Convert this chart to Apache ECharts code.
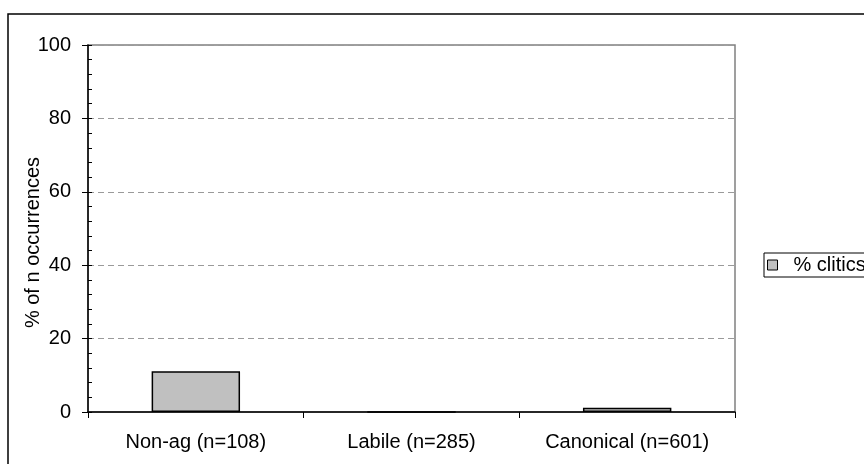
<!DOCTYPE html>
<html>
<head>
<meta charset="utf-8">
<script src="https://cdn.jsdelivr.net/npm/echarts@6/dist/echarts.min.js"></script>
<style>
  html, body { margin: 0; padding: 0; background: #fff; }
  #chart { width: 864px; height: 464px; }
</style>
</head>
<body>
<div id="chart"></div>
<script>
// Share of occurrences realised as clitics, per verb class
const categories = ['Non-ag (n=108)', 'Labile (n=285)', 'Canonical (n=601)'];
const clitics = [11.1, 0, 1.16];
const seriesName = '% clitics';
const yTicks = [0, 20, 40, 60, 80, 100];
const axisTitle = '% of n occurrences';

const FONT = '"Liberation Sans", Arial, sans-serif';
const FS = 20;
const chart = echarts.init(document.getElementById('chart'), null, { renderer: 'canvas' });

chart.setOption({
  animation: false,
  backgroundColor: '#ffffff',
  textStyle: { fontFamily: FONT },
  graphic: [{
    type: 'rect',
    shape: { x: 8, y: 14, width: 900, height: 500 },
    style: { fill: 'none', stroke: '#000', lineWidth: 1.5 },
    silent: true,
    z: 100
  }],
  grid: {
    left: 88, right: 129, top: 45, bottom: 52,
    show: true, borderColor: '#808080', borderWidth: 1.5, backgroundColor: 'transparent'
  },
  legend: {
    data: [seriesName],
    left: 764, top: 253,
    orient: 'vertical',
    padding: [2, 6, 2, 3],
    borderColor: '#000', borderWidth: 1, borderRadius: 0,
    icon: 'rect', itemWidth: 10, itemHeight: 10, itemGap: 4,
    itemStyle: { borderColor: '#000', borderWidth: 1 },
    textStyle: { fontFamily: FONT, fontSize: FS, color: '#000', lineHeight: 20, padding: [0, 0, 0, 11] }
  },
  xAxis: {
    type: 'category',
    data: categories,
    boundaryGap: true,
    axisLine: { lineStyle: { color: '#000', width: 1.5 } },
    axisTick: { show: true, alignWithLabel: false, length: 6, lineStyle: { color: '#000' } },
    axisLabel: { fontFamily: FONT, fontSize: FS, color: '#000', margin: 20 }
  },
  yAxis: [{
    type: 'value',
    min: yTicks[0], max: yTicks[yTicks.length - 1], interval: 20,
    name: axisTitle,
    nameLocation: 'middle',
    nameGap: 45,
    nameMoveOverlap: false,
    nameRotate: 90,
    nameTextStyle: { fontFamily: FONT, fontSize: FS, color: '#000', padding: [0, 28, 0, 0] },
    axisLine: { show: true, lineStyle: { color: '#000', width: 1.5 } },
    axisTick: { show: true, length: 6, lineStyle: { color: '#000' } },
    axisLabel: { fontFamily: FONT, fontSize: FS, color: '#000', margin: 17 },
    splitLine: { show: true, lineStyle: { color: '#9a9a9a', type: [6, 4], width: 1 } }
  }, {
    // inward minor ticks every 4 units
    type: 'value',
    position: 'left',
    min: 0, max: 100, interval: 4,
    axisLine: { show: false },
    axisTick: { show: true, inside: true, length: 4, lineStyle: { color: '#000' } },
    axisLabel: { show: false },
    splitLine: { show: false }
  }],
  series: [{
    name: seriesName,
    type: 'bar',
    data: clitics,
    barWidth: '41%',
    itemStyle: { color: '#c0c0c0', borderColor: '#000', borderWidth: 1.5 }
  }]
});
</script>
</body>
</html>
